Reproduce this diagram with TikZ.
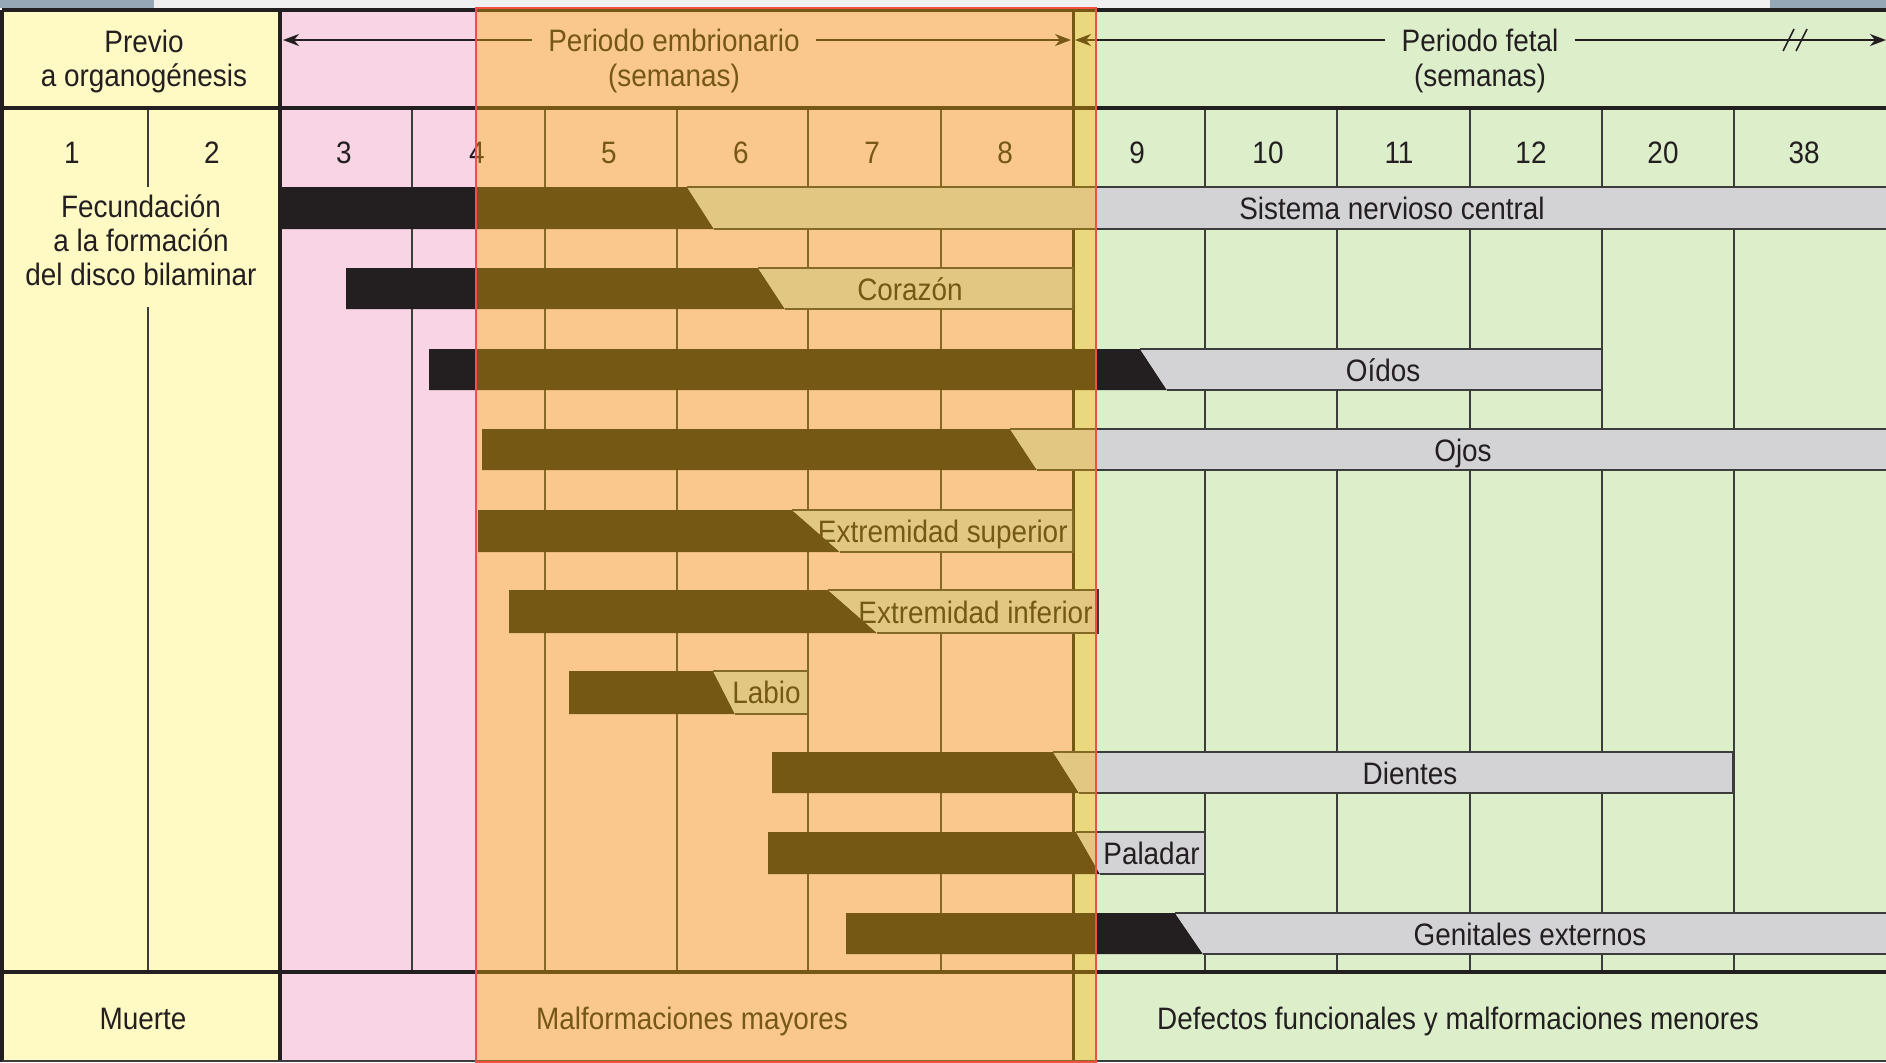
\documentclass[tikz,border=0pt]{standalone}
\usepackage{fontspec}
\setmainfont{Liberation Sans}[FakeStretch=0.9]
\usetikzlibrary{arrows.meta}

\definecolor{amarillo}{RGB}{255,249,196}
\definecolor{rosa}{RGB}{249,212,228}
\definecolor{verde}{RGB}{221,238,203}
\definecolor{negro}{RGB}{35,31,32}
\definecolor{gris}{RGB}{211,211,213}
\definecolor{trazo}{RGB}{60,60,60}
\definecolor{naranja}{RGB}{253,181,0}
\definecolor{rojo}{RGB}{242,80,64}
\definecolor{marco}{RGB}{240,240,240}
\definecolor{azulado}{RGB}{150,168,182}

\tikzset{
  rejilla/.style={draw=trazo, line width=1pt},
  grueso/.style={draw=negro, line width=2pt},
  rotulo/.style={font=\fontsize{15.5}{18}\selectfont, text=negro, inner sep=0pt, text height=11pt, text depth=0pt},
  periodo/.style={rotulo, inner xsep=8pt},
  flecha/.style={draw=negro, line width=0.8pt, -{Stealth[length=8pt,width=6pt,inset=2.5pt]}},
  oscuro/.style={fill=negro},
  claro/.style={fill=gris},
  borde/.style={draw=trazo, line width=0.7pt},
}

% barra: y arriba, y abajo, inicio, corte arriba, corte abajo, fin
\newcommand{\barra}[6]{
  \fill[oscuro] (#3,#1) -- (#4,#1) -- (#5,#2) -- (#3,#2) -- cycle;
  \fill[claro] (#4,#1) -- (#6,#1) -- (#6,#2) -- (#5,#2) -- cycle;
  \draw[borde] (#4,#1) -- (#6,#1) -- (#6,#2) -- (#5,#2);
}

\begin{document}
\begin{tikzpicture}[x=0.5pt,y=-0.5pt]
\useasboundingbox (0,0) rectangle (1886,1062);
% marco de la captura
\fill[marco] (0,0) rectangle (1886,10);
\fill[azulado] (0,0) rectangle (154,8);
\fill[azulado] (1770,0) rectangle (1886,8);
% fondos
\fill[amarillo] (2,10) rectangle (280,1062);
\fill[rosa] (280,10) rectangle (1073,1062);
\fill[verde] (1073,10) rectangle (1886,1062);
% rejilla
\draw[rejilla] (148,108) -- (148,187) (148,307) -- (148,972);
\foreach \x in {412,545,677,808,941,1205,1337,1470,1602,1734}
  \draw[rejilla] (\x,108) -- (\x,972);
\foreach \y in {10,108,972}
  \draw[grueso] (2,\y) -- (1886,\y);
\draw[grueso] (2,10) -- (2,1062);
\draw[grueso] (280,10) -- (280,1062);
\draw[grueso, line width=1.5pt] (1073,10) -- (1073,1062);
\draw[rejilla] (2,1061) -- (1886,1061);

% encabezado
\node[rotulo] (previo) at (144,41) {Previo};
\node[rotulo] (organo) at (144,75) {a organogénesis};
\node[periodo] (embrio) at (674,40) {Periodo embrionario};
\node[rotulo] (embriosem) at (674,75) {(semanas)};
\node[periodo] (fetal) at (1480,40) {Periodo fetal};
\node[rotulo] (fetalsem) at (1480,75) {(semanas)};
\coordinate (embizq) at (283,40);
\coordinate (embder) at (1071,40);
\coordinate (fetizq) at (1075,40);
\coordinate (fetder) at (1886,40);
\draw[flecha] (embrio.west) -- (embizq);
\draw[flecha] (embrio.east) -- (embder);
\draw[flecha] (fetal.west) -- (fetizq);
\draw[flecha] (fetal.east) -- (fetder);
\draw[negro, line width=0.8pt] (1783,51) -- (1794,29) (1796,51) -- (1807,29);

% semanas
\foreach \n/\x in {1/72,2/212,3/344,4/477,5/609,6/741,7/872,8/1005,9/1137,10/1268,11/1399,12/1531,20/1663,38/1804}
  \node[rotulo] (sem\n) at (\x,152) {\n};
\node[rotulo] (fecund) at (141,206) {Fecundación};
\node[rotulo] (formacion) at (141,240) {a la formación};
\node[rotulo] (disco) at (141,274) {del disco bilaminar};

% barras
\barra{187}{229}{280}{687}{714}{1892}
\barra{268}{309}{346}{758}{785}{1073}
\barra{349}{390}{429}{1140}{1167}{1602}
\barra{429}{470}{482}{1010}{1037}{1892}
\barra{510}{552}{478}{792}{840}{1073}
\barra{590}{633}{509}{828}{877}{1098}
\barra{671}{714}{569}{713}{735}{808}
\barra{752}{793}{772}{1053}{1079}{1733}
\barra{832}{874}{768}{1076}{1100}{1205}
\barra{913}{954}{846}{1175}{1203}{1892}

\node[rotulo] (snc) at (1392,208) {Sistema nervioso central};
\node[rotulo] (corazon) at (910,289) {Corazón};
\node[rotulo] (oidos) at (1383,370) {Oídos};
\node[rotulo] (ojos) at (1463,450) {Ojos};
\node[rotulo, anchor=east] (extsup) at (1068,531) {Extremidad superior};
\node[rotulo, anchor=east] (extinf) at (1093,612) {Extremidad inferior};
\node[rotulo, anchor=east] (labio) at (801,692) {Labio};
\node[rotulo] (dientes) at (1410,773) {Dientes};
\node[rotulo, anchor=west] (paladar) at (1103,853) {Paladar};
\node[rotulo] (genitales) at (1530,934) {Genitales externos};

% fila inferior
\node[rotulo] (muerte) at (143,1018) {Muerte};
\node[rotulo] (mayores) at (692,1018) {Malformaciones mayores};
\node[rotulo] (menores) at (1458,1018) {Defectos funcionales y malformaciones menores};

% periodo embrionario resaltado
\fill[naranja, fill opacity=0.38] (476,8) rectangle (1096,1062);
\draw[rojo, line width=1pt] (476,8) rectangle (1096,1062);
\end{tikzpicture}
\end{document}
